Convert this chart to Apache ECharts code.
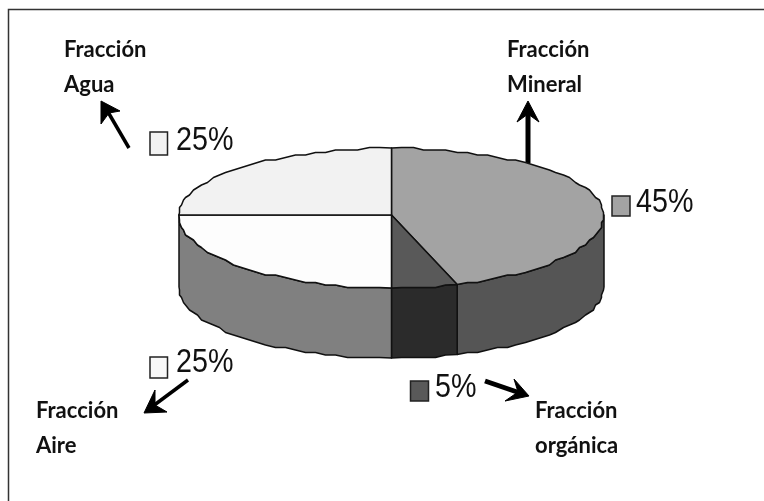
<!DOCTYPE html>
<html>
<head>
<meta charset="utf-8">
<style>html,body{margin:0;padding:0;background:#fff}#c{width:764px;height:501px}</style>
<script src="https://cdn.jsdelivr.net/npm/echarts@6/dist/echarts.min.js"></script>
</head>
<body>
<div id="c"></div>
<script>
// Data
const fractions = ['Fracción Mineral', 'Fracción orgánica', 'Fracción Aire', 'Fracción Agua'];
const shares = [45, 5, 25, 25];

// Style
const topColors = ['#a3a3a3', '#595959', '#fdfdfd', '#f2f2f2'];
const wallColors = ['#555555', '#2b2b2b', '#808080', '#f2f2f2'];
const swatchColors = ['#a3a3a3', '#595959', '#f8f8f8', '#f2f2f2'];

// Pie geometry
const cx = 391.5, cy = 215, rx = 212.5, ryBack = 67, ryFront = 73;
const wallY = 287, wallRy = 71, step = 3, snap = 2.5;
const total = shares.reduce((a, b) => a + b, 0);
const toAngle = v => v / total * 360;

function rimPoint(deg, yc, back, front, snapped) {
  const r = deg * Math.PI / 180, c = Math.cos(r);
  const x = cx + rx * Math.sin(r);
  const y = yc - (c > 0 ? back : front) * c;
  if (!snapped) return [x, y];
  return [Math.round(x / 2) * 2 - 0.5, Math.round(y / snap) * snap];
}
function arc(a0, a1, yc, back, front) {
  const pts = [rimPoint(a0, yc, back, front, false)];
  const first = Math.ceil(a0 / step + 0.01) * step;
  for (let a = first; a < a1 - 0.01; a += step) pts.push(rimPoint(a, yc, back, front, true));
  pts.push(rimPoint(a1, yc, back, front, false));
  return pts;
}
function sliceBounds(i) {
  let a0 = 0;
  for (let k = 0; k < i; k++) a0 += toAngle(shares[k]);
  return [a0, a0 + toAngle(shares[i])];
}
function renderTop(params, api) {
  const [a0, a1] = sliceBounds(params.dataIndex);
  return {
    type: 'polygon',
    shape: { points: [[cx, cy]].concat(arc(a0, a1, cy, ryBack, ryFront)) },
    style: { fill: topColors[params.dataIndex], stroke: '#111', lineWidth: 1.5, lineJoin: 'round' }
  };
}
function renderWall(params, api) {
  const [a0, a1] = sliceBounds(params.dataIndex);
  const s = Math.max(a0, 90), e = Math.min(a1, 270);
  if (e <= s) return { type: 'group', children: [] };
  const pts = arc(s, e, cy, ryBack, ryFront).concat(arc(s, e, wallY, wallRy, wallRy).reverse());
  return {
    type: 'polygon',
    shape: { points: pts },
    style: { fill: wallColors[params.dataIndex], stroke: '#111', lineWidth: 1.5, lineJoin: 'round' }
  };
}

// Annotations, in the order of the data
const labelFont = 'bold 22px Lato, Carlito, sans-serif';
const pctFont = '33px "Liberation Sans", Arial, sans-serif';
const notes = [
  { name: ['Fracción', 'Mineral'], tx: 507, ty: [50, 85], sw: [612, 196, 18, 20], px: 636, py: 219, arrow: [[528, 163], [528, 110]], lw: 5, head: [[517, 122], [528, 101], [539, 122], [528, 114]] },
  { name: ['Fracción', 'orgánica'], tx: 535, ty: [411, 446], sw: [410.5, 381, 18, 20], px: 435, py: 404, arrow: [[485, 381], [520, 393]], lw: 5, head: [[514, 379], [529, 396], [505, 401], [518, 392]] },
  { name: ['Fracción', 'Aire'], tx: 36, ty: [411, 446], sw: [150, 357, 17.5, 21], px: 176, py: 379, arrow: [[188, 380], [153, 406]], lw: 3.5, head: [[155, 390], [144, 413], [167, 412], [155, 405]] },
  { name: ['Fracción', 'Agua'], tx: 64, ty: [50, 85], sw: [150, 132, 17.5, 23], px: 176, py: 157, arrow: [[129, 148], [108, 112]], lw: 3.5, head: [[101, 124], [101, 101], [120, 111], [109, 113]] }
];
const graphics = [
  { type: 'polyline', shape: { points: [[8.5, 501], [8.5, 9.5], [764, 9.5]] }, style: { stroke: '#333', lineWidth: 1.5, fill: null } }
];
notes.forEach((n, i) => {
  n.name.forEach((line, k) => graphics.push({
    type: 'text', x: n.tx, y: n.ty[k],
    style: { text: line, font: labelFont, fill: '#111', textVerticalAlign: 'middle', textAlign: 'left' }
  }));
  graphics.push({
    type: 'rect', shape: { x: n.sw[0], y: n.sw[1], width: n.sw[2], height: n.sw[3] },
    style: { fill: swatchColors[i], stroke: '#222', lineWidth: 1.5 }
  });
  graphics.push({
    type: 'text', x: n.px, y: n.py, scaleX: 0.87,
    style: { text: shares[i] + '%', font: pctFont, fill: '#111', textVerticalAlign: 'bottom', textAlign: 'left' }
  });
  graphics.push({ type: 'polyline', shape: { points: n.arrow }, style: { stroke: '#000', lineWidth: n.lw, fill: null } });
  graphics.push({ type: 'polygon', shape: { points: n.head }, style: { fill: '#000', stroke: '#000', lineWidth: 1, lineJoin: 'miter' } });
});

const chart = echarts.init(document.getElementById('c'), null, { renderer: 'canvas' });
chart.setOption({
  animation: false,
  backgroundColor: '#fff',
  graphic: graphics,
  series: [
    { type: 'custom', coordinateSystem: 'none', z: 1, silent: true, data: shares.map(v => [v]), renderItem: renderWall },
    { type: 'custom', coordinateSystem: 'none', z: 2, silent: true, data: shares.map(v => [v]), renderItem: renderTop }
  ]
});
</script>
</body>
</html>
